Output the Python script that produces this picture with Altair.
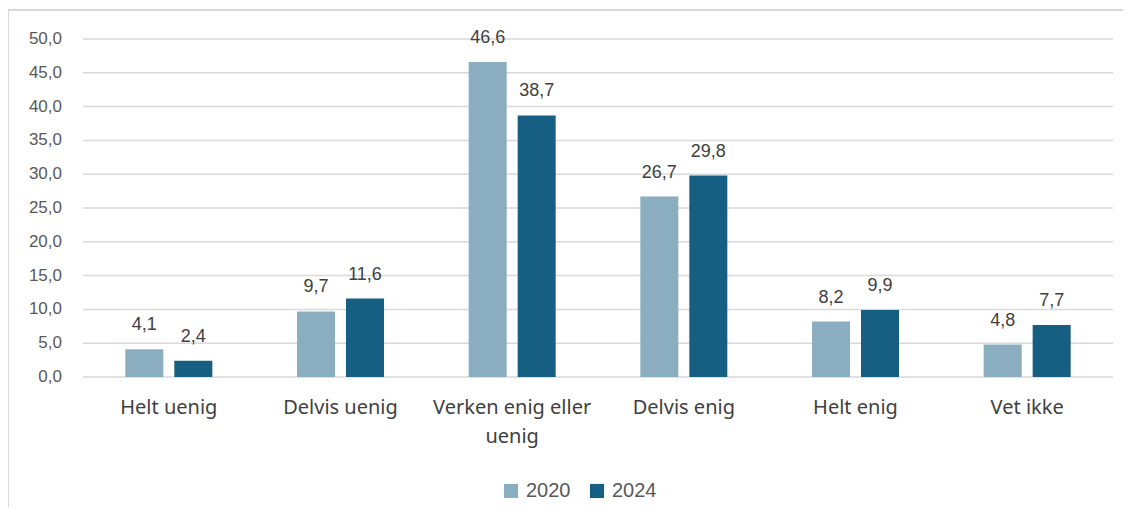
import altair as alt
import pandas as pd

categories = ["Helt uenig", "Delvis uenig", "Verken enig eller uenig", "Delvis enig", "Helt enig", "Vet ikke"]
years = ["2020", "2024"]
values_2020 = [4.1, 9.7, 46.6, 26.7, 8.2, 4.8]
values_2024 = [2.4, 11.6, 38.7, 29.8, 9.9, 7.7]
colors = ["#8AAEC0", "#175F82"]
y_ticks = [0, 5, 10, 15, 20, 25, 30, 35, 40, 45, 50]

rows = []
for c, a, b in zip(categories, values_2020, values_2024):
    rows.append({"kategori": c, "år": "2020", "verdi": a})
    rows.append({"kategori": c, "år": "2024", "verdi": b})
df = pd.DataFrame(rows)
ticks_df = pd.DataFrame({"verdi": y_ticks})

FONT = "Liberation Sans"

x_axis = alt.Axis(
    title=None, domain=False, ticks=False, labelAngle=0,
    labelFontSize=20, labelColor="#404040", labelFont="Noto Sans",
    labelPadding=20, labelLineHeight=29,
    labelExpr="datum.value == 'Verken enig eller uenig' ? ['Verken enig eller', 'uenig'] : datum.value",
)
y_axis = alt.Axis(title=None, domain=False, ticks=False, labels=False, grid=False)

y_scale = alt.Scale(domain=[0, 50], nice=False)
x_enc = alt.X("kategori:N", sort=categories,
              scale=alt.Scale(paddingInner=0, paddingOuter=0), axis=x_axis)
xoff = alt.XOffset("år:N", sort=years,
                   scale=alt.Scale(paddingInner=0.224, paddingOuter=0.864))
y_enc = alt.Y("verdi:Q", scale=y_scale, axis=y_axis)

grid = alt.Chart(ticks_df).mark_rule(color="#d9d9d9", strokeWidth=1.5).encode(
    y=alt.Y("verdi:Q", scale=y_scale, axis=y_axis),
    x=alt.value(0), x2=alt.value(1030),
)
tick_labels = alt.Chart(ticks_df).transform_calculate(
    lbl="replace(format(datum.verdi, '.1f'), '.', ',')"
).mark_text(
    align="right", baseline="middle", fontSize=17, color="#595959", font=FONT
).encode(
    y=alt.Y("verdi:Q", scale=y_scale, axis=y_axis),
    x=alt.value(-21), text="lbl:N",
)

bars = alt.Chart(df).mark_bar().encode(
    x=x_enc, xOffset=xoff, y=y_enc,
    color=alt.Color(
        "år:N", sort=years,
        scale=alt.Scale(domain=years, range=colors),
        legend=alt.Legend(
            title=None, orient="none", direction="horizontal",
            legendX=418, legendY=442, symbolType="square", symbolSize=200,
            symbolStrokeWidth=0, labelFontSize=20, labelColor="#595959",
            labelFont=FONT, columnPadding=16, labelOffset=5,
        ),
    ),
)

labels = alt.Chart(df).transform_calculate(
    lbl="replace(format(datum.verdi, '.1f'), '.', ',')"
).mark_text(
    baseline="alphabetic", dy=-19, fontSize=18, color="#404040", font=FONT
).encode(
    x=x_enc, xOffset=xoff, y=y_enc, text="lbl:N",
)

frame_left = alt.Chart(df).mark_rule(color="#d9d9d9", strokeWidth=2).encode(
    x=alt.value(-75), y=alt.value(-29), y2=alt.value(600)
)
frame_top = alt.Chart(df).mark_rule(color="#d9d9d9", strokeWidth=2).encode(
    x=alt.value(-75), x2=alt.value(1200), y=alt.value(-29)
)

chart = alt.layer(grid, tick_labels, bars, labels, frame_left, frame_top).properties(
    width=1030, height=338,
    autosize=alt.AutoSizeParams(type="none"),
    padding={"left": 75, "top": 31, "right": 10, "bottom": 130},
).configure_view(stroke=None)

chart.save("out.html", embed_options={"renderer": "svg", "actions": False})
